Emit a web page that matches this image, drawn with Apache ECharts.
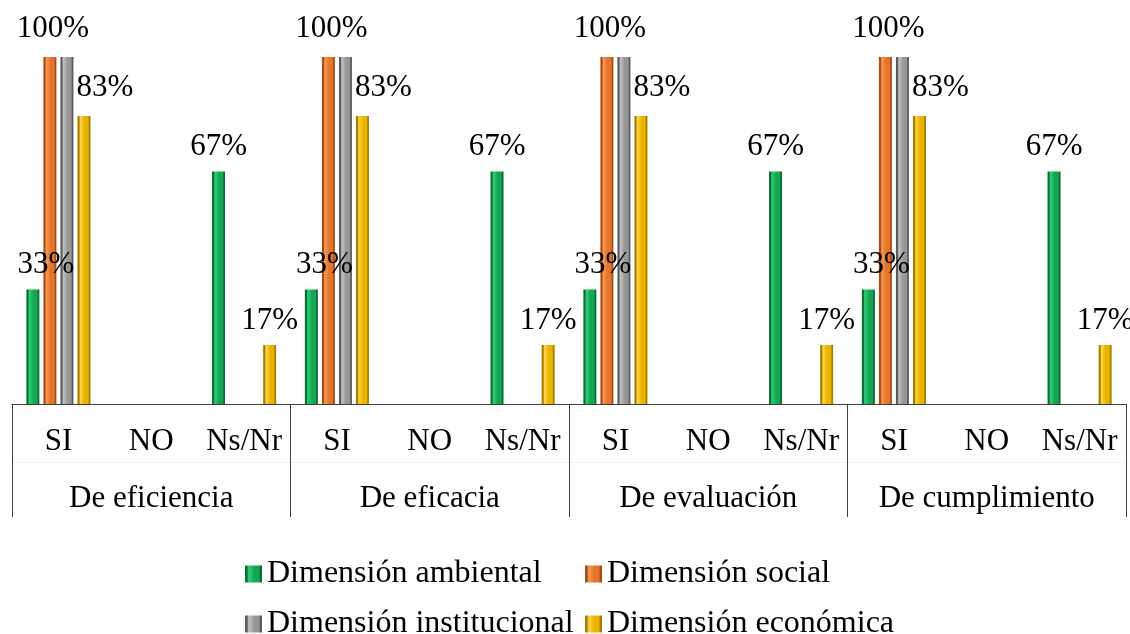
<!DOCTYPE html>
<html>
<head>
<meta charset="utf-8">
<script src="https://cdn.jsdelivr.net/npm/echarts@6/dist/echarts.min.js"></script>
<style>
  html, body { margin: 0; padding: 0; background: #fff; font-family: "Liberation Serif", serif; }
  #chart { width: 1130px; height: 634px; }
</style>
</head>
<body>
<div id="chart"></div>
<script>
// Indicator groups and the answer options within each group
const groups = ['De eficiencia', 'De eficacia', 'De evaluación', 'De cumplimiento'];
const answers = ['SI', 'NO', 'Ns/Nr'];

// Percentages per answer, group after group (SI, NO, Ns/Nr)
const ambiental     = [33, 0, 67, 33, 0, 67, 33, 0, 67, 33, 0, 67];
const social        = [100, 0, 0, 100, 0, 0, 100, 0, 0, 100, 0, 0];
const institucional = [100, 0, 0, 100, 0, 0, 100, 0, 0, 100, 0, 0];
const economica     = [83, 0, 17, 83, 0, 17, 83, 0, 17, 83, 0, 17];

const seriesNames = ['Dimensión ambiental', 'Dimensión social', 'Dimensión institucional', 'Dimensión económica'];

const categories = [];
groups.forEach(() => answers.forEach(a => categories.push(a)));

const FONT = '"Liberation Serif", "Times New Roman", serif';

// Bevelled look: dark edges, light strip near the left, base colour in the middle
function bevel(dark, light, base) {
  return new echarts.graphic.LinearGradient(0, 0, 1, 0, [
    { offset: 0, color: dark },
    { offset: 0.12, color: dark },
    { offset: 0.22, color: light },
    { offset: 0.55, color: base },
    { offset: 0.82, color: base },
    { offset: 0.9, color: dark },
    { offset: 1, color: dark }
  ]);
}

const palette = [
  bevel('#0a6e35', '#2fd173', '#16a552'),
  bevel('#a84d15', '#f79a55', '#e3762c'),
  bevel('#5c5c5c', '#c4c4c4', '#979797'),
  bevel('#a87e00', '#ffd54a', '#eab300')
];

// Label shift [x, y] per answer position (SI, NO, Ns/Nr) for each series
const labelShift = [
  [[13, 0], [0, 0], [0, 0]],
  [[3, -4], [0, 0], [0, 0]],
  [[0, 0], [0, 0], [0, 0]],
  [[21, -4], [0, 0], [0, 0]]
];
// The institucional 100% label coincides with the social one; only one is drawn
const showLabel = [true, true, false, true];

function buildData(values, si) {
  return values.map((v, i) => ({
    value: v,
    label: {
      show: v > 0 && showLabel[si],
      offset: labelShift[si][i % 3]
    }
  }));
}

const valueSets = [ambiental, social, institucional, economica];

// Legend laid out as a two-column grid: one single-entry legend per cell
const legendCells = [
  { name: seriesNames[0], left: 245, top: 558 },
  { name: seriesNames[1], left: 585, top: 558 },
  { name: seriesNames[2], left: 245, top: 608 },
  { name: seriesNames[3], left: 585, top: 608 }
];

function draw() {
  const chart = echarts.init(document.getElementById('chart'), null, { renderer: 'canvas' });
  chart.setOption({
    animation: false,
    backgroundColor: '#ffffff',
    textStyle: { fontFamily: FONT },
    grid: { left: 12, right: 4, top: 57, bottom: 230, containLabel: false },
    xAxis: [
      {
        type: 'category',
        data: categories,
        axisLine: { show: true, lineStyle: { color: '#404040', width: 1 } },
        axisTick: { show: false },
        axisLabel: { interval: 0, margin: 22, color: '#000', fontFamily: FONT, fontSize: 31 }
      },
      {
        type: 'category',
        data: groups,
        position: 'bottom',
        axisLine: { show: false },
        axisTick: { show: true, length: 113, interval: 0, lineStyle: { color: '#404040', width: 1 } },
        axisLabel: { interval: 0, margin: 79, color: '#000', fontFamily: FONT, fontSize: 31 }
      },
      {
        type: 'category',
        data: groups,
        position: 'bottom',
        offset: 58,
        axisLine: { show: true, lineStyle: { color: '#f3f3f3', width: 1 } },
        axisTick: { show: false },
        axisLabel: { show: false }
      }
    ],
    yAxis: {
      type: 'value',
      min: 0,
      max: 100,
      show: false,
      splitLine: { show: false }
    },
    legend: legendCells.map(c => ({
      data: [c.name],
      left: c.left,
      top: c.top,
      padding: 0,
      itemWidth: 17,
      itemHeight: 17,
      icon: 'rect',
      textStyle: { fontFamily: FONT, fontSize: 32, color: '#000', lineHeight: 32 }
    })),
    series: valueSets.map((vals, si) => ({
      name: seriesNames[si],
      type: 'bar',
      xAxisIndex: 0,
      barWidth: 13,
      barGap: '31%',
      barCategoryGap: '31%',
      itemStyle: { color: palette[si] },
      label: {
        show: true,
        position: 'top',
        distance: 9,
        color: '#000',
        fontFamily: FONT,
        fontSize: 31,
        formatter: p => p.value + '%'
      },
      data: buildData(vals, si)
    }))
  });
}

// Make sure the serif face is ready before text is measured
if (document.fonts && document.fonts.load) {
  document.fonts.load('31px "Liberation Serif"').then(draw, draw);
} else {
  draw();
}
</script>
</body>
</html>
